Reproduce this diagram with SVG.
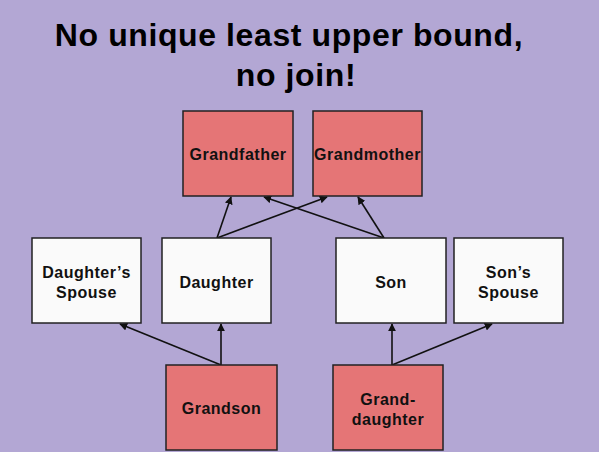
<svg xmlns="http://www.w3.org/2000/svg" width="599" height="452" viewBox="0 0 599 452">
  <style>
    .title { font-family: "Liberation Sans", Arial, sans-serif; font-weight: bold; font-size: 32px; letter-spacing: 0.6px; fill: #000; text-anchor: middle; }
    .box { stroke: #222; stroke-width: 1.5; }
    .red { fill: #e57576; }
    .white { fill: #fafafa; }
    .label { font-family: "Liberation Sans", Arial, sans-serif; font-weight: bold; font-size: 16px; letter-spacing: 0.5px; fill: #111; text-anchor: middle; dominant-baseline: central; }
    .edge { stroke: #111; stroke-width: 1.6; fill: none; marker-end: url(#arrow); }
  </style>
  <defs>
    <marker id="arrow" viewBox="0 0 10 10" refX="9" refY="5" markerWidth="8" markerHeight="8" markerUnits="userSpaceOnUse" orient="auto">
      <path d="M0,0 L10,5 L0,10 z" fill="#111"/>
    </marker>
  </defs>

  <rect width="599" height="452" fill="#b3a7d4"/>

  <text class="title" x="289" y="46">No unique least upper bound,</text>
  <text class="title" x="296" y="86">no join!</text>

  <g id="edges">
    <line class="edge" x1="217" y1="238" x2="231" y2="197"/>
    <line class="edge" x1="217" y1="238" x2="327" y2="197"/>
    <line class="edge" x1="384" y1="238" x2="264" y2="197"/>
    <line class="edge" x1="384" y1="238" x2="358" y2="197"/>
    <line class="edge" x1="221" y1="365" x2="221" y2="324"/>
    <line class="edge" x1="221" y1="365" x2="120" y2="324"/>
    <line class="edge" x1="392" y1="365" x2="392" y2="324"/>
    <line class="edge" x1="392" y1="365" x2="492" y2="324"/>
  </g>

  <g id="grandfather">
    <rect class="box red" x="183" y="111" width="110" height="85"/>
    <text class="label" x="238" y="154">Grandfather</text>
  </g>
  <g id="grandmother">
    <rect class="box red" x="313" y="111" width="109" height="85"/>
    <text class="label" x="367.5" y="154">Grandmother</text>
  </g>
  <g id="daughters-spouse">
    <rect class="box white" x="32" y="238" width="109" height="85"/>
    <text class="label" x="86.5" y="272">Daughter’s</text>
    <text class="label" x="86.5" y="292">Spouse</text>
  </g>
  <g id="daughter">
    <rect class="box white" x="162" y="238" width="109" height="85"/>
    <text class="label" x="216.5" y="282">Daughter</text>
  </g>
  <g id="son">
    <rect class="box white" x="336" y="238" width="110" height="85"/>
    <text class="label" x="391" y="282">Son</text>
  </g>
  <g id="sons-spouse">
    <rect class="box white" x="454" y="238" width="109" height="85"/>
    <text class="label" x="508.5" y="272">Son’s</text>
    <text class="label" x="508.5" y="292">Spouse</text>
  </g>
  <g id="grandson">
    <rect class="box red" x="166" y="365" width="111" height="85"/>
    <text class="label" x="221.5" y="408">Grandson</text>
  </g>
  <g id="granddaughter">
    <rect class="box red" x="333" y="365" width="110" height="85"/>
    <text class="label" x="388" y="399">Grand-</text>
    <text class="label" x="388" y="419">daughter</text>
  </g>
</svg>
